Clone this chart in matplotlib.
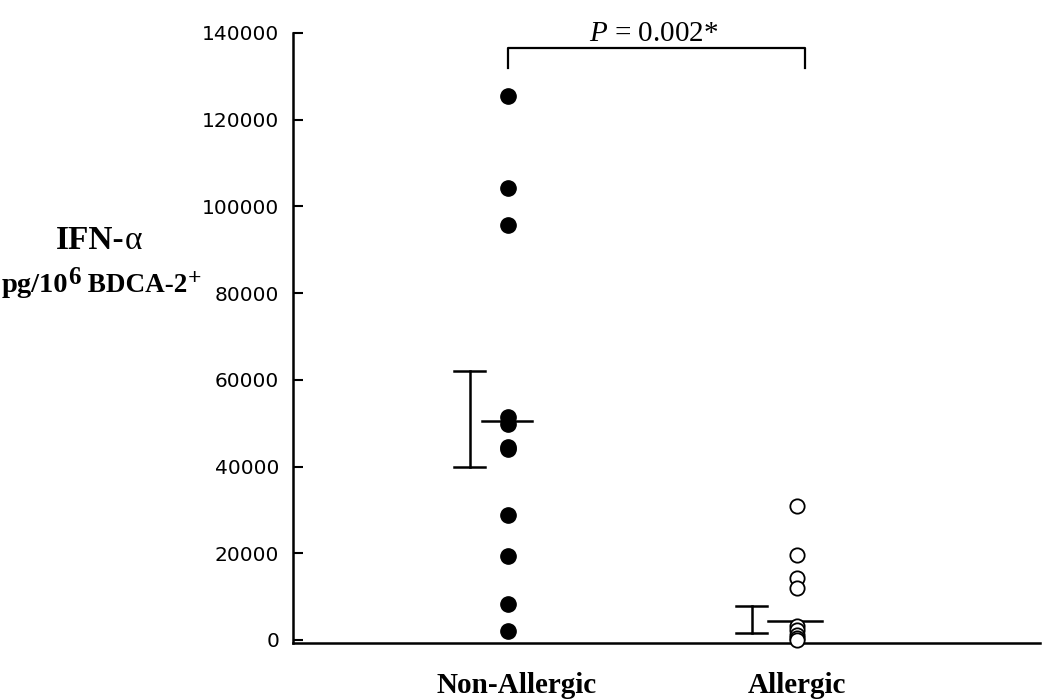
import numpy as np
import matplotlib.pyplot as plt

# Werte (pg/10^6 BDCA-2+)
groups = ["Non-Allergic", "Allergic"]
non_allergic = [125500, 104300, 95800, 51500, 49800, 44600, 44000, 28800, 19300, 8300, 2100]
allergic = [30900, 19600, 14300, 12000, 3200, 2200, 1200, 400, 0]

means = [50600, 4400]
err_low = [40000, 1600]
err_high = [62000, 7800]
p_text = "$P$ = 0.002*"

plt.rcParams["mathtext.fontset"] = "custom"
plt.rcParams["mathtext.rm"] = "Liberation Serif"
plt.rcParams["mathtext.it"] = "Liberation Serif:italic"
plt.rcParams["mathtext.bf"] = "Liberation Serif:bold"

fig = plt.figure(figsize=(10.5, 7), dpi=100)
ax = fig.add_axes([0.279, 0.0814, 0.711, 0.8716])

x_pos = [1, 2]
ax.plot([x_pos[0]] * len(non_allergic), non_allergic, "o", color="black",
        markersize=11, clip_on=False, zorder=3)
ax.plot([x_pos[1]] * len(allergic), allergic, "o", markerfacecolor="white",
        markeredgecolor="black", markeredgewidth=1.3, markersize=10.3, clip_on=False, zorder=3)

# Mittelwert-Linien und Fehlerbalken
mean_offsets = [(-0.09, 0.083), (-0.10, 0.087)]
err_x = [0.868, 1.844]
for i in range(2):
    ax.plot([x_pos[i] + mean_offsets[i][0], x_pos[i] + mean_offsets[i][1]],
            [means[i], means[i]], color="black", lw=1.8)
    ax.plot([err_x[i], err_x[i]], [err_low[i], err_high[i]], color="black", lw=1.8)
    for yy in (err_low[i], err_high[i]):
        ax.plot([err_x[i] - 0.053, err_x[i] + 0.053], [yy, yy], color="black", lw=1.8)

# Signifikanz-Klammer
ax.plot([1, 1, 2.03, 2.03], [132000, 136600, 136600, 132000], color="black", lw=1.6,
        clip_on=False)
ax.text(1.505, 136700, p_text, ha="center", va="bottom", fontsize=21,
        family="Liberation Serif", clip_on=False)

ax.set_xlim(0.256, 2.84)
ax.set_ylim(-700, 140000)
ax.set_yticks(np.arange(0, 140001, 20000))
ax.set_yticklabels([str(v) for v in range(0, 140001, 20000)], fontsize=14.5)
ax.tick_params(axis="y", direction="in", length=7, width=1.5, pad=10)
ax.set_xticks([])
ax.spines["top"].set_visible(False)
ax.spines["right"].set_visible(False)
ax.spines["left"].set_linewidth(1.8)
ax.spines["bottom"].set_linewidth(1.8)

for xp, name in zip(x_pos, groups):
    ax.text(xp + (0.03 if xp == 1 else 0), -7400, name, ha="center", va="top",
            fontsize=21, fontweight="bold", family="Liberation Serif", clip_on=False)

# y-Achsenbeschriftung aus Einzelteilen (Hochstellungen groß wie im Original)
serif = "Liberation Serif"
t_ifn = fig.text(0.053, 0.657, "IFN-", ha="left", va="center", fontsize=24,
                 fontweight="bold", family=serif)
ax.annotate("α", xy=(1, 0), xycoords=t_ifn, ha="left", va="bottom", fontsize=24,
            family=serif, annotation_clip=False)

t1 = fig.text(0.002, 0.592, "pg/10", ha="left", va="center", fontsize=20.5,
              fontweight="bold", family=serif)
t2 = ax.annotate("6", xy=(1, 0.36), xycoords=t1, ha="left", va="bottom", fontsize=18,
                 fontweight="bold", family=serif, annotation_clip=False)
t3 = ax.annotate(" BDCA-2", xy=(1, 0), xycoords=(t2, t1), ha="left", va="bottom",
                 fontsize=19.5, fontweight="bold", family=serif, annotation_clip=False)
ax.annotate("+", xy=(1, 0.36), xycoords=t3, ha="left", va="bottom", fontsize=17,
            fontweight="bold", family=serif, annotation_clip=False)

fig.savefig("out.png", dpi=100)
